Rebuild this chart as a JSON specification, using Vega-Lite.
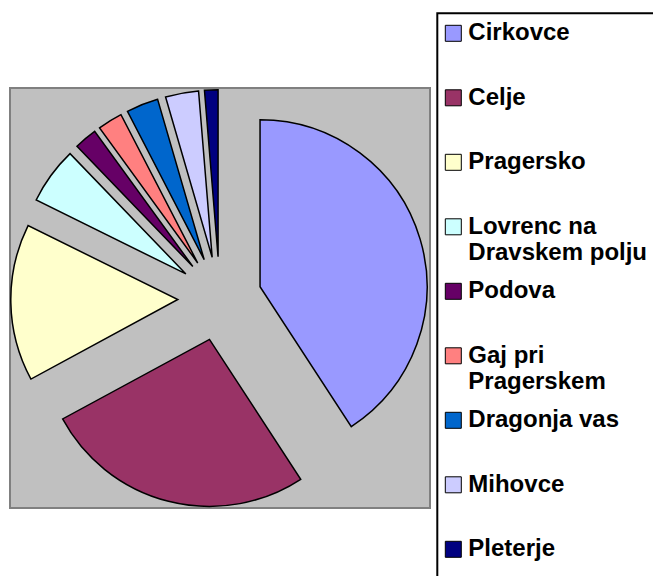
{
  "$schema": "https://vega.github.io/schema/vega-lite/v6.json",
  "autosize": "none",
  "width": 420,
  "height": 420,
  "padding": {"left": 10, "top": 88, "right": 223, "bottom": 68},
  "background": "white",
  "config": {
    "view": {"fill": "#C0C0C0", "stroke": "#808080", "strokeWidth": 2},
    "legend": {"strokeWidth": 2}
  },
  "data": {
    "values": [
      {"kraj": "Cirkovce", "delez": 40.8},
      {"kraj": "Celje", "delez": 26.3},
      {"kraj": "Pragersko", "delez": 15.2},
      {"kraj": "Lovrenc na Dravskem polju", "delez": 5.5},
      {"kraj": "Podova", "delez": 2.2},
      {"kraj": "Gaj pri Pragerskem", "delez": 2.4},
      {"kraj": "Dragonja vas", "delez": 3.1},
      {"kraj": "Mihovce", "delez": 3.2},
      {"kraj": "Pleterje", "delez": 1.3}
    ]
  },
  "transform": [
    {"window": [{"op": "sum", "field": "delez", "as": "kum"}], "frame": [null, 0]},
    {"joinaggregate": [{"op": "sum", "field": "delez", "as": "skupaj"}]},
    {"calculate": "datum.kum - datum.delez", "as": "zacetek"},
    {"calculate": "(datum.kum - datum.delez / 2) / datum.skupaj * 2 * PI", "as": "sredina"},
    {"calculate": "sin(datum.sredina)", "as": "odmikX"},
    {"calculate": "cos(datum.sredina)", "as": "odmikY"}
  ],
  "mark": {"type": "arc", "outerRadius": 167, "stroke": "black", "strokeWidth": 1.5, "strokeJoin": "miter"},
  "encoding": {
    "theta": {"field": "zacetek", "type": "quantitative", "stack": null, "scale": {"domain": [0, 100], "range": [0, 6.283185307179586]}},
    "theta2": {"field": "kum"},
    "x": {"field": "odmikX", "type": "quantitative", "axis": null, "scale": {"domain": [-4.995, 5.005], "nice": false, "zero": false}},
    "y": {"field": "odmikY", "type": "quantitative", "axis": null, "scale": {"domain": [-4.983, 5.017], "nice": false, "zero": false}},
    "color": {
      "field": "kraj",
      "type": "nominal",
      "scale": {
        "domain": ["Cirkovce", "Celje", "Pragersko", "Lovrenc na Dravskem polju", "Podova", "Gaj pri Pragerskem", "Dragonja vas", "Mihovce", "Pleterje"],
        "range": ["#9999FF", "#993366", "#FFFFCC", "#CCFFFF", "#660066", "#FF8080", "#0066CC", "#CCCCFF", "#000080"]
      },
      "legend": {
        "title": " ",
        "titleOrient": "bottom",
        "titleFontSize": 14,
        "titlePadding": 4,
        "orient": "none",
        "legendX": 427.3,
        "legendY": -74.7,
        "direction": "vertical",
        "columns": 1,
        "gridAlign": "all",
        "padding": 8,
        "strokeColor": "black",
        "symbolType": "square",
        "symbolSize": 256,
        "symbolOffset": -4,
        "symbolStrokeColor": "black",
        "symbolStrokeWidth": 1,
        "symbolOpacity": 1,
        "labelOffset": 3,
        "labelFont": "Liberation Sans",
        "labelFontWeight": "bold",
        "labelFontSize": 24,
        "labelColor": "black",
        "labelLimit": 400,
        "labelLineHeight": 25,
        "rowPadding": 14.5,
        "labelExpr": "datum.label == 'Lovrenc na Dravskem polju' ? ['Lovrenc na', 'Dravskem polju'] : datum.label == 'Gaj pri Pragerskem' ? ['Gaj pri', 'Pragerskem'] : datum.label"
      }
    }
  }
}
